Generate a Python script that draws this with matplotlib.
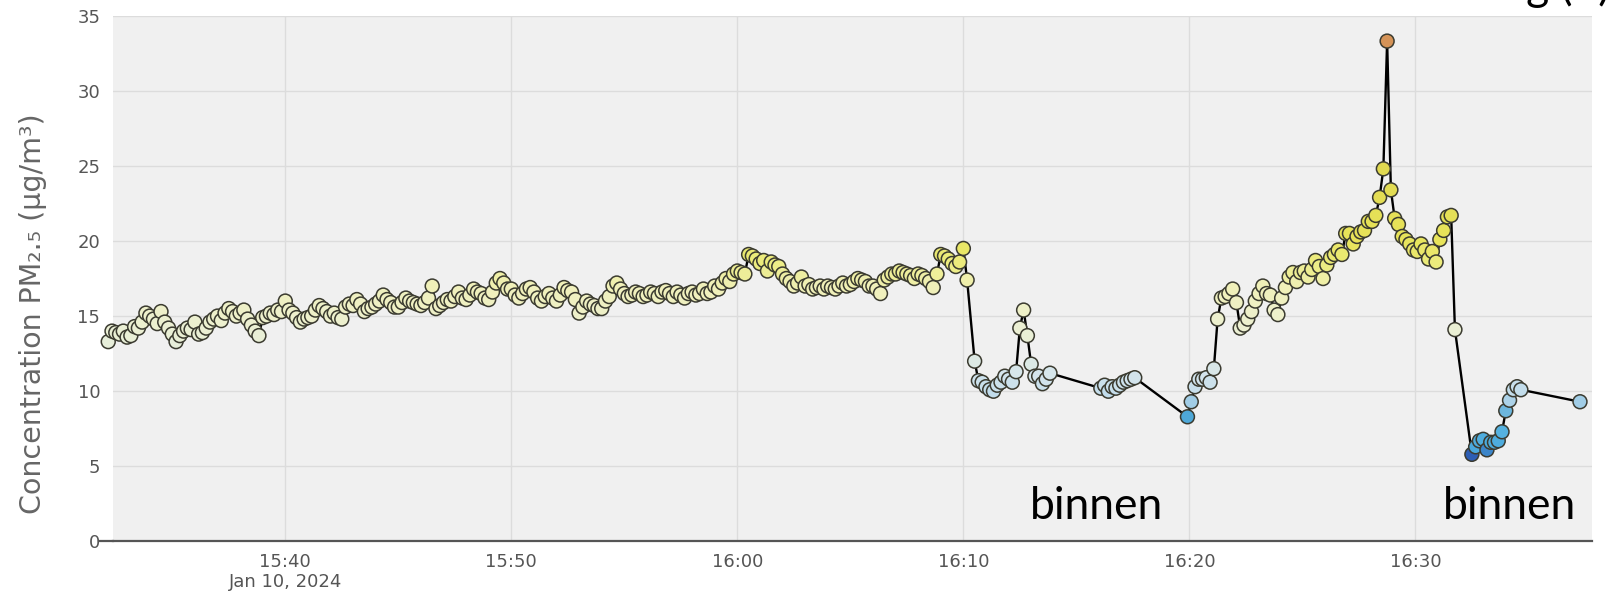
import numpy as np
import matplotlib
matplotlib.use("Agg")
import matplotlib.pyplot as plt
import matplotlib.colors as mcolors
from datetime import datetime, timedelta

# ---------------- data ----------------
DAY = "2024-01-10"
STEP_S = 10  # sampling interval of the sensor (s)

seg1_start = "15:32:10"
seg1_values = [
    13.3, 14.0, 13.9, 13.8, 14.0,
    13.6, 13.7, 14.3, 14.2, 14.6, 15.2,
    15.0, 14.8, 14.5, 15.3, 14.6, 14.2,
    13.8, 13.3, 13.7, 14.0, 14.2, 14.1,
    14.6, 13.8, 13.9, 14.2, 14.6, 14.8,
    15.0, 14.7, 15.2, 15.5, 15.3, 15.0,
    15.2, 15.4, 14.8, 14.4, 14.0, 13.7,
    14.9, 15.0, 15.2, 15.1, 15.4, 15.3,
    16.0, 15.4, 15.2, 14.9, 14.6, 14.8,
    14.9, 15.0, 15.4, 15.7, 15.5, 15.3,
    15.0, 15.2, 14.9, 14.8, 15.6, 15.8,
    15.7, 16.1, 15.8, 15.3, 15.5, 15.6,
    15.8, 16.0, 16.4, 16.1, 15.9, 15.6,
    15.6, 15.9, 16.2, 16.0, 15.9, 15.8,
    15.7, 15.9, 16.2, 17.0, 15.5, 15.7,
    15.9, 16.1, 16.0, 16.3, 16.6, 16.2,
    16.1, 16.4, 16.8, 16.6, 16.5, 16.2,
    16.1, 16.6, 17.2, 17.5, 17.2, 16.8,
    16.8, 16.4, 16.2, 16.5, 16.8, 16.9,
    16.6, 16.2, 16.0, 16.3, 16.5, 16.2,
    16.0, 16.4, 16.9, 16.7, 16.6, 16.1,
    15.2, 15.6, 16.0, 15.8, 15.7, 15.5,
    15.5, 16.0, 16.3, 17.0, 17.2, 16.8,
    16.5, 16.3, 16.4, 16.6, 16.5, 16.3,
    16.4, 16.6, 16.5, 16.3, 16.6, 16.7,
    16.5, 16.3, 16.6, 16.4, 16.2, 16.5,
    16.6, 16.4, 16.5, 16.8, 16.5, 16.6,
    17.0, 16.8, 17.2, 17.5, 17.3, 17.8,
    18.0, 17.9, 17.8, 19.1, 19.0, 18.8,
    18.5, 18.7, 18.0, 18.6, 18.4, 18.3,
    17.8, 17.5, 17.3, 17.0, 17.2, 17.6,
    17.0, 17.1, 16.8, 16.9, 17.0, 16.8,
    17.0, 16.9, 16.8, 17.0, 17.2, 17.0,
    17.1, 17.3, 17.5, 17.4, 17.3, 17.0,
    17.0, 16.8, 16.5, 17.4, 17.6, 17.8,
    17.8, 18.0, 17.9, 17.8, 17.7, 17.5,
    17.8, 17.7, 17.5, 17.3, 16.9, 17.8,
    19.1, 19.0, 18.8, 18.5, 18.3, 18.6,
    19.5, 17.4,
]

seg2_start = "16:10:30"
seg2_values = [12.0, 10.7, 10.6, 10.3, 10.1, 10.0, 10.4, 10.6, 11.0, 10.8, 10.6,
               11.3, 14.2, 15.4, 13.7, 11.8, 11.0, 11.0, 10.5, 10.8, 11.2]

seg3_start = "16:16:05"
seg3_values = [10.2, 10.4, 10.0, 10.3, 10.2, 10.4, 10.6, 10.7, 10.8, 10.9]

seg4_start = "16:19:55"
seg4_values = [8.3, 9.3, 10.3, 10.8, 10.8, 10.9, 10.6, 11.5, 14.8, 16.2,
               16.3, 16.5, 16.8, 15.9, 14.2, 14.4, 14.8, 15.3, 16.0, 16.5,
               17.0, 16.5, 16.4, 15.4, 15.1, 16.2, 16.9, 17.6, 17.9, 17.3,
               17.9, 18.0, 17.6, 18.1, 18.7, 18.3, 17.5, 18.4, 18.9, 19.1,
               19.4, 19.1, 20.5, 20.5, 19.8, 20.3, 20.6, 20.7, 21.3, 21.3,
               21.7, 22.9, 24.8, 33.3, 23.4, 21.5, 21.1, 20.3, 20.1, 19.8,
               19.4, 19.3, 19.8, 19.4, 18.8, 19.3, 18.6, 20.1, 20.7, 21.6,
               21.7, 14.1]

seg5_start = "16:32:30"
seg5_values = [5.8, 6.3, 6.7, 6.8, 6.1, 6.6, 6.6, 6.7, 7.3, 8.7, 9.4, 10.1, 10.3, 10.1]

seg6_start = "16:37:17"
seg6_values = [9.3]

tick_times = ["15:40", "15:50", "16:00", "16:10", "16:20", "16:30"]
tick_labels = ["15:40\nJan 10, 2024", "15:50", "16:00", "16:10", "16:20", "16:30"]
y_ticks = [0, 5, 10, 15, 20, 25, 30, 35]

annotations = ["binnen", "binnen"]
annotation_times = ["16:15:53", "16:34:10"]
top_text = "wandeling (1)"

# ---------------- build series ----------------
segments = [(seg1_start, seg1_values), (seg2_start, seg2_values),
            (seg3_start, seg3_values), (seg4_start, seg4_values),
            (seg5_start, seg5_values), (seg6_start, seg6_values)]
times, vals = [], []
for start, values in segments:
    t0 = datetime.fromisoformat(f"{DAY} {start}")
    for i, v in enumerate(values):
        times.append(t0 + timedelta(seconds=STEP_S * i))
        vals.append(v)
vals = np.array(vals)

def T(s):
    if s.count(":") == 1:
        s = s + ":00"
    return datetime.fromisoformat(f"{DAY} {s}")

# ---------------- colours ----------------
anchor_vals = [5.0, 5.8, 6.3, 7.5, 8.3, 9.5, 11.0, 13.0, 15.0, 17.0, 18.5, 20.0, 25.0, 33.3, 35.0]
anchor_cols = ["#2a55b0", "#2d5fb5", "#4aa9dc", "#58b3e0", "#4ea8d8", "#b9d8ea", "#d5e5ec",
               "#e6eedc", "#eef0cc", "#f0f0b8", "#ecec80", "#e8e45a", "#e0d850",
               "#d59457", "#d08050"]
vmin, vmax = anchor_vals[0], anchor_vals[-1]
cmap = mcolors.LinearSegmentedColormap.from_list(
    "pm", [((v - vmin) / (vmax - vmin), c) for v, c in zip(anchor_vals, anchor_cols)])
norm = mcolors.Normalize(vmin=vmin, vmax=vmax)

# ---------------- figure ----------------
fig = plt.figure(figsize=(16.11, 5.98), dpi=100)
fig.patch.set_facecolor("white")
ax = fig.add_axes([0.070, 0.0945, 0.918, 0.8795])
ax.set_facecolor("#f0f0f0")

ax.plot(times, vals, color="black", lw=1.7, zorder=2, clip_on=False)
ax.scatter(times, vals, c=vals, cmap=cmap, norm=norm, s=100,
           edgecolors="#3b3b30", linewidths=1.1, zorder=3, clip_on=False)

ax.set_ylim(0, 35)
ax.set_xlim(T("15:32:22"), T("16:37:48"))
ax.set_yticks(y_ticks)
ax.set_xticks([T(t) for t in tick_times])
ax.set_xticklabels(tick_labels)

ax.grid(True, color="#dcdcdc", lw=1.0, zorder=0)
ax.set_axisbelow(True)
for s in ["top", "right", "left"]:
    ax.spines[s].set_visible(False)
ax.spines["bottom"].set_color("#555555")
ax.spines["bottom"].set_linewidth(1.6)
ax.plot([-0.0095, 0], [0, 0], transform=ax.transAxes, color="#555555",
        lw=1.6, clip_on=False)

ax.tick_params(axis="both", length=0, labelsize=13, labelcolor="#555555")
ax.tick_params(axis="y", pad=9)
ax.tick_params(axis="x", pad=8)

fig.text(0.0205, 0.476, "Concentration PM₂.₅ (µg/m³)", rotation=90,
         ha="center", va="center", fontsize=20.5, color="#666666")

for txt, t in zip(annotations, annotation_times):
    ax.text(T(t), 1.5, txt, ha="center", va="baseline", fontsize=32,
            family="Lato", color="black")

# caption above the chart, cut off by the top edge as in the original
fig.text(0.9995, 0.9995, top_text, ha="right", va="baseline", fontsize=32,
         family="Lato", color="black")

fig.savefig("out.png", dpi=100)
